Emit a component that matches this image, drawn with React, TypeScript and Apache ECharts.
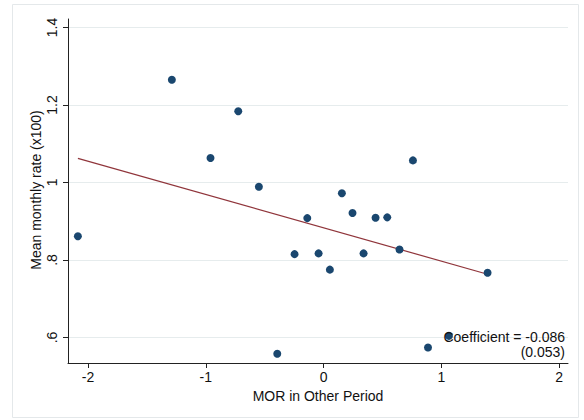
import React, { useEffect, useRef } from "react";
import * as echarts from "echarts";

// Observations: MOR in the other period vs. mean monthly rate (x100)
const morOther = [
  -2.086, -1.288, -0.96, -0.724, -0.549, -0.393, -0.246, -0.138, -0.042, 0.054,
  0.156, 0.246, 0.34, 0.442, 0.541, 0.645, 0.759, 0.887, 1.065, 1.393,
];
const meanRate = [
  0.861, 1.265, 1.063, 1.184, 0.989, 0.558, 0.815, 0.908, 0.817, 0.775,
  0.972, 0.921, 0.817, 0.909, 0.91, 0.827, 1.057, 0.574, 0.604, 0.767,
];

// Linear fit
const coefficient = -0.086;
const stdError = 0.053;
const intercept = 0.883;

const xTicks = [-2, -1, 0, 1, 2];
const yTicks = [0.6, 0.8, 1, 1.2, 1.4];
const yTickLabels = [".6", ".8", "1", "1.2", "1.4"];

const xTitle = "MOR in Other Period";
const yTitle = "Mean monthly rate (x100)";

const FONT = "'Liberation Sans', Arial, sans-serif";

export default function App() {
  const ref = useRef<HTMLDivElement>(null);

  useEffect(() => {
    if (!ref.current) return;
    const chart = echarts.init(ref.current, undefined, { renderer: "svg" });

    const points = morOther.map((x, i) => [x, meanRate[i]]);
    const xMin = Math.min(...morOther);
    const xMax = Math.max(...morOther);
    const fitLine = [
      [xMin, intercept + coefficient * xMin],
      [xMax, intercept + coefficient * xMax],
    ];

    const noteStyle = {
      align: "right",
      fontFamily: FONT,
      fontSize: 14,
      lineHeight: 14,
      fill: "#111",
    };

    chart.setOption({
      animation: false,
      backgroundColor: "#ffffff",
      textStyle: { fontFamily: FONT },
      grid: { left: 68, right: 16, top: 19, bottom: 57 },
      graphic: [
        {
          type: "rect",
          shape: { x: 12.5, y: 4.5, width: 566, height: 413 },
          style: { fill: "none", stroke: "#e4e8ea", lineWidth: 1 },
          silent: true,
          z: -1,
        },
        {
          type: "text",
          x: 36,
          y: 190,
          rotation: Math.PI / 2,
          style: {
            text: yTitle,
            align: "center",
            verticalAlign: "middle",
            fontFamily: FONT,
            fontSize: 14,
            fill: "#111",
          },
        },
        {
          type: "text",
          right: 19,
          top: 330,
          style: { ...noteStyle, text: `Coefficient = ${coefficient.toFixed(3)}` },
          z: 10,
        },
        {
          type: "text",
          right: 19,
          top: 345,
          style: { ...noteStyle, text: `(${stdError.toFixed(3)})` },
          z: 10,
        },
      ],
      xAxis: {
        type: "value",
        min: -2.17,
        max: 2.076,
        name: xTitle,
        nameLocation: "middle",
        nameGap: 22,
        nameTextStyle: { fontSize: 14, color: "#111", fontFamily: FONT },
        axisLine: { onZero: false, lineStyle: { color: "#222", width: 1 } },
        axisTick: { show: true, length: 5, customValues: xTicks, lineStyle: { color: "#222" } },
        axisLabel: {
          customValues: xTicks,
          formatter: (v: number) => String(v),
          fontSize: 14,
          color: "#111",
          margin: 7,
          fontFamily: FONT,
        },
        splitLine: { show: false },
      },
      yAxis: {
        type: "value",
        min: 0.534,
        max: 1.422,
        axisLine: { show: true, onZero: false, lineStyle: { color: "#222", width: 1 } },
        axisTick: { show: true, length: 5, customValues: yTicks, lineStyle: { color: "#222" } },
        axisLabel: {
          customValues: yTicks,
          rotate: 90,
          formatter: (v: number) => {
            const i = yTicks.findIndex((t) => Math.abs(t - v) < 1e-6);
            return i >= 0 ? yTickLabels[i] : "";
          },
          fontSize: 14,
          color: "#111",
          margin: 9,
          fontFamily: FONT,
        },
        splitLine: { show: true, lineStyle: { color: "#e6eced", width: 1 } },
      },
      series: [
        {
          type: "line",
          data: fitLine,
          symbol: "none",
          lineStyle: { color: "#90353b", width: 1.2 },
          z: 2,
          silent: true,
        },
        {
          type: "scatter",
          data: points,
          symbol: "circle",
          symbolSize: 8,
          itemStyle: { color: "#1a476f", opacity: 1 },
          z: 3,
        },
      ],
    });

    return () => chart.dispose();
  }, []);

  return (
    <div
      ref={ref}
      style={{ position: "fixed", left: 0, top: 0, width: 584, height: 420 }}
    />
  );
}
